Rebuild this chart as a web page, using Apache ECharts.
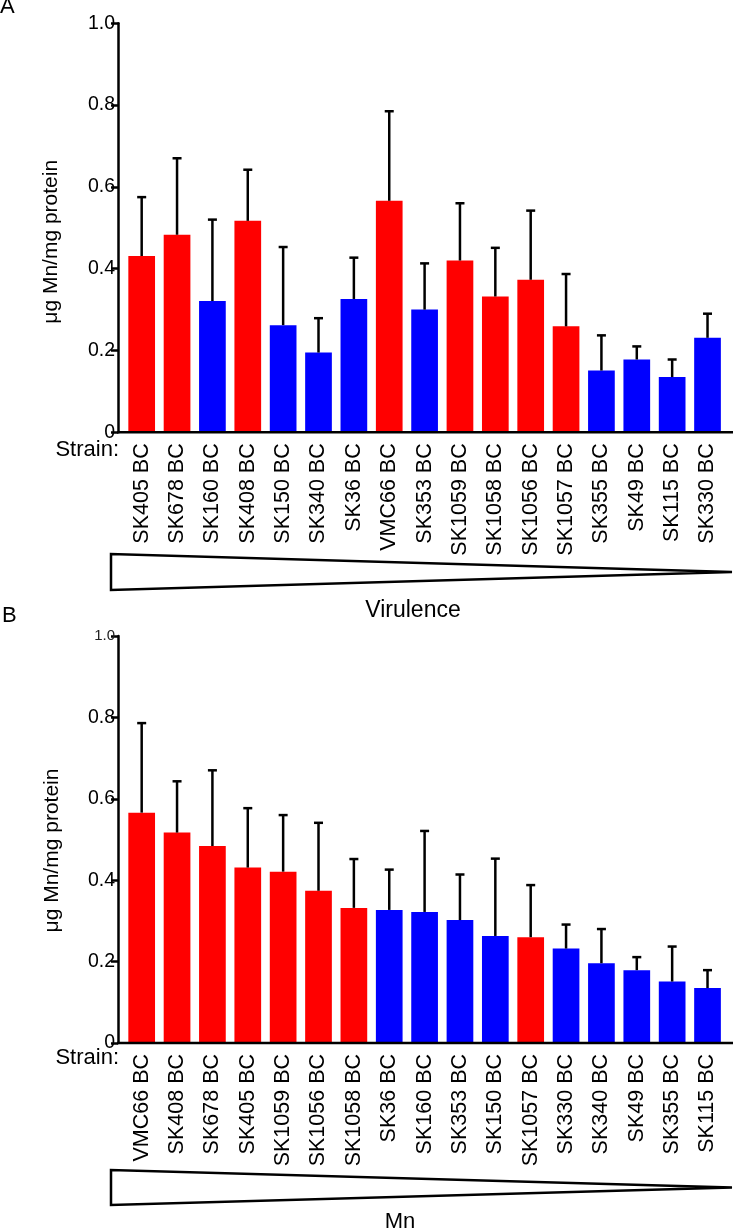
<!DOCTYPE html>
<html>
<head>
<meta charset="utf-8">
<script src="https://cdn.jsdelivr.net/npm/echarts@6/dist/echarts.min.js"></script>
<style>
html,body{margin:0;padding:0;background:#fff;}
#chart{width:733px;height:1230px;}
</style>
</head>
<body>
<div id="chart"></div>
<script>
// ---------- Data ----------
// Panel A: strains ordered by virulence
const strainsA = ['SK405 BC','SK678 BC','SK160 BC','SK408 BC','SK150 BC','SK340 BC','SK36 BC','VMC66 BC','SK353 BC','SK1059 BC','SK1058 BC','SK1056 BC','SK1057 BC','SK355 BC','SK49 BC','SK115 BC','SK330 BC'];
const meanA    = [0.431,0.483,0.321,0.517,0.262,0.195,0.326,0.566,0.300,0.420,0.332,0.373,0.259,0.151,0.178,0.135,0.231];
const upperA   = [0.575,0.670,0.520,0.642,0.453,0.279,0.427,0.785,0.413,0.560,0.451,0.542,0.387,0.237,0.210,0.178,0.290];
const groupA   = ['r','r','b','r','b','b','b','r','b','r','r','r','r','b','b','b','b'];

// Panel B: strains ordered by Mn content
const strainsB = ['VMC66 BC','SK408 BC','SK678 BC','SK405 BC','SK1059 BC','SK1056 BC','SK1058 BC','SK36 BC','SK160 BC','SK353 BC','SK150 BC','SK1057 BC','SK330 BC','SK340 BC','SK49 BC','SK355 BC','SK115 BC'];
const meanB    = [0.566,0.517,0.484,0.431,0.421,0.374,0.332,0.327,0.322,0.302,0.263,0.260,0.232,0.196,0.179,0.151,0.135];
const upperB   = [0.786,0.643,0.670,0.577,0.560,0.541,0.452,0.426,0.521,0.414,0.453,0.388,0.291,0.280,0.211,0.237,0.179];
const groupB   = ['r','r','r','r','r','r','r','b','b','b','b','r','b','b','b','b','b'];

const yTicks = [0, 0.2, 0.4, 0.6, 0.8, 1.0];
const yTitle = 'μg Mn/mg protein';
const strainLabel = 'Strain:';
const arrowLabels = ['Virulence', 'Mn'];
const panelLetters = ['A', 'B'];

// ---------- Styling ----------
const FONT = '"Liberation Sans", Arial, Helvetica, sans-serif';
const colorMap = { r: '#ff0000', b: '#0000ff' };
const GRID_LEFT = 124;
const Y_OFFSET = 6;

const chart = echarts.init(document.getElementById('chart'), null, { renderer: 'canvas' });

function xAxisDef(gridIndex, cats) {
  return {
    type: 'category', gridIndex: gridIndex, data: cats,
    axisLine: { show: false },
    axisTick: { show: false },
    axisLabel: { rotate: 90, margin: 11, fontSize: 21.5, color: '#000', fontFamily: FONT, interval: 0 },
    splitLine: { show: false }
  };
}
function yAxisDef(gridIndex, smallTop) {
  return {
    type: 'value', gridIndex: gridIndex, min: yTicks[0], max: yTicks[yTicks.length - 1], interval: 0.2,
    offset: Y_OFFSET,
    axisLine: { show: true, lineStyle: { color: '#000', width: 2.5 } },
    axisTick: { show: true, length: 7, lineStyle: { color: '#000', width: 2.5 } },
    axisLabel: {
      margin: 3, fontSize: 19.5, color: '#000', fontFamily: FONT,
      formatter: function (v) {
        if (v === 0) return '0';
        if (smallTop && Math.abs(v - 1) < 1e-9) return '{s|1.0}';
        return v.toFixed(1);
      },
      rich: { s: { fontSize: 15, color: '#222', fontFamily: FONT } }
    },
    splitLine: { show: false }
  };
}
function barSeries(idx, means, groups) {
  return {
    type: 'bar', xAxisIndex: idx, yAxisIndex: idx, barWidth: '75.5%',
    data: means.map(function (v, i) { return { value: v, itemStyle: { color: colorMap[groups[i]] } }; }),
    z: 2
  };
}
function errSeries(idx, means, uppers) {
  return {
    type: 'custom', xAxisIndex: idx, yAxisIndex: idx, z: 3,
    data: means.map(function (v, i) { return [i, v, uppers[i]]; }),
    encode: { x: 0, y: [1, 2] },
    renderItem: function (params, api) {
      const lo = api.coord([api.value(0), api.value(1)]);
      const hi = api.coord([api.value(0), api.value(2)]);
      const half = 4.5;
      const st = { stroke: '#000', lineWidth: 2.5 };
      return {
        type: 'group',
        children: [
          { type: 'line', shape: { x1: lo[0], y1: lo[1], x2: hi[0], y2: hi[1] }, style: st },
          { type: 'line', shape: { x1: hi[0] - half, y1: hi[1], x2: hi[0] + half, y2: hi[1] }, style: st }
        ]
      };
    }
  };
}

const option = {
  animation: false,
  backgroundColor: '#fff',
  grid: [
    { left: GRID_LEFT, right: 7.8, top: 23.3, height: 409 },
    { left: GRID_LEFT, right: 7.8, top: 636, height: 407 }
  ],
  xAxis: [xAxisDef(0, strainsA), xAxisDef(1, strainsB)],
  yAxis: [yAxisDef(0, false), yAxisDef(1, true)],
  series: [
    barSeries(0, meanA, groupA), errSeries(0, meanA, upperA),
    barSeries(1, meanB, groupB), errSeries(1, meanB, upperB)
  ]
};
chart.setOption(option);

// ---------- Decorations (axis baseline, labels, triangles) ----------
const yAxisX = GRID_LEFT - Y_OFFSET;
const zeroA = chart.convertToPixel({ yAxisIndex: 0 }, 0);
const zeroB = chart.convertToPixel({ yAxisIndex: 1 }, 0);
const topA = chart.convertToPixel({ yAxisIndex: 0 }, 1);
const topB = chart.convertToPixel({ yAxisIndex: 1 }, 1);
const W = 733;

function txt(text, x, y, size, align, vAlign, rot) {
  return {
    type: 'text', x: x, y: y, rotation: rot || 0, z: 10,
    style: { text: text, fontSize: size, fontFamily: FONT, fill: '#000', align: align, verticalAlign: vAlign }
  };
}
function tri(xl, yt, yb, xr) {
  return {
    type: 'polygon', z: 10,
    shape: { points: [[xl, yt], [xl, yb], [xr, (yt + yb) / 2]] },
    style: { fill: '#fff', stroke: '#000', lineWidth: 2.5, lineJoin: 'miter' }
  };
}
const graphics = [
  { type: 'line', z: 5, shape: { x1: yAxisX - 1, y1: zeroA, x2: W, y2: zeroA }, style: { stroke: '#000', lineWidth: 2.5 } },
  { type: 'line', z: 5, shape: { x1: yAxisX - 1, y1: zeroB, x2: W, y2: zeroB }, style: { stroke: '#000', lineWidth: 2.5 } },
  txt(panelLetters[0], 0, 7, 22, 'left', 'middle'),
  txt(panelLetters[1], 2, 616, 22, 'left', 'middle'),
  txt(yTitle, 51, (topA + zeroA) / 2 + 14, 21, 'center', 'middle', Math.PI / 2),
  txt(yTitle, 52, (topB + zeroB) / 2 + 11, 21, 'center', 'middle', Math.PI / 2),
  txt(strainLabel, yAxisX + 1, zeroA + 18, 22, 'right', 'middle'),
  txt(strainLabel, yAxisX + 1, zeroB + 15, 22, 'right', 'middle'),
  tri(111, 554, 590, 732),
  tri(111, 1170, 1205, 732),
  txt(arrowLabels[0], 413, 611, 23, 'center', 'middle'),
  txt(arrowLabels[1], 400, 1222, 22, 'center', 'middle')
];
chart.setOption({ graphic: graphics });
</script>
</body>
</html>
